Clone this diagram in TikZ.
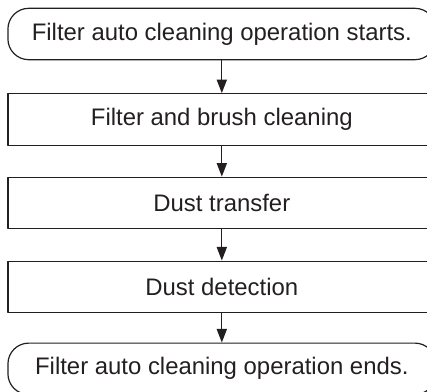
\documentclass[tikz,border=0pt]{standalone}
\usepackage{fontspec}
\setmainfont{Liberation Sans}
\usetikzlibrary{arrows.meta}
\definecolor{ink}{HTML}{231F20}
\begin{document}
\begin{tikzpicture}[line join=round,>={Triangle[length=3.6mm,width=2.7mm]},
  stepbox/.style={draw=ink,line width=0.9pt,minimum width=11.32cm,minimum height=1.36cm,
    inner sep=0pt,text=ink,font=\fontsize{18}{21}\selectfont},
  endbox/.style={stepbox,rounded corners=0.55cm}]
  \useasboundingbox (0,0) rectangle (11.30,10.37);
  \node[endbox] (start) at (5.87,9.47) {Filter auto cleaning operation starts.};
  \node[stepbox] (brush) at (5.87,7.21) {Filter and brush cleaning};
  \node[stepbox] (transfer) at (5.87,5.00) {Dust transfer};
  \node[stepbox] (detect) at (5.87,2.78) {Dust detection};
  \node[endbox] (finish) at (5.87,0.61) {Filter auto cleaning operation ends.};
  \draw[ink,line width=1pt,->] (start) -- (brush);
  \draw[ink,line width=1pt,->] (brush) -- (transfer);
  \draw[ink,line width=1pt,->] (transfer) -- (detect);
  \draw[ink,line width=1pt,->] (detect) -- (finish);
\end{tikzpicture}
\end{document}
